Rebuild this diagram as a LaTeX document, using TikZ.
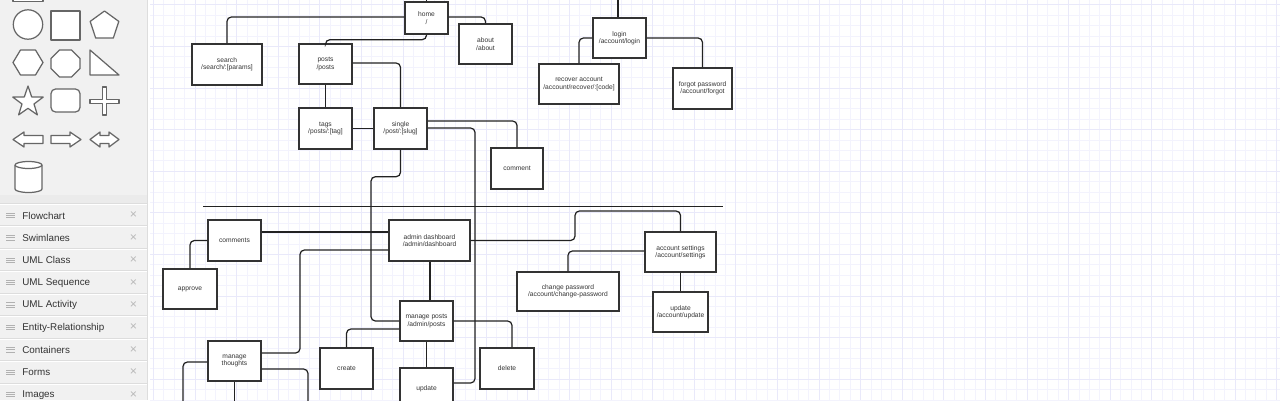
\documentclass[tikz,border=0pt]{standalone}
\usepackage{fontspec}
\setmainfont{Liberation Sans}

\definecolor{gridMinor}{HTML}{F3F3FD}
\definecolor{gridMajor}{HTML}{E9E9FA}
\definecolor{sideBg}{HTML}{F1F1F1}
\definecolor{sideRule}{HTML}{DDDDDD}
\definecolor{sideInk}{HTML}{333333}
\definecolor{iconLine}{HTML}{666666}
\definecolor{boxLine}{HTML}{333333}
\definecolor{linkLine}{HTML}{222222}

\newcommand{\myPx}{0.02cm}
\newcommand{\myPage}[6]{
\node[page, minimum width=#4*\myPx, minimum height=#5*\myPx] (#1) at (#2,#3) {#6};
}

\begin{document}
\begin{tikzpicture}[x=\myPx, y=-\myPx,
	page/.style={draw=boxLine, line width=0.8pt, fill=white, inner sep=0pt, align=center,
		text=sideInk, font=\fontsize{3.8}{4.2}\selectfont},
	link/.style={draw=linkLine, line width=0.7pt, rounded corners=2.5pt},
	icon/.style={draw=iconLine, fill=white, line width=0.7pt, line join=round},
	sideText/.style={anchor=west, inner sep=0pt, text=sideInk, font=\fontsize{5.6}{6}\selectfont}]
	\useasboundingbox (0,0) rectangle (1280,400);
	\clip (0,0) rectangle (1280,400);

	% canvas grid
	\fill[white] (0,0) rectangle (1280,400);
	\foreach \k in {0,...,108}
		\draw[gridMinor, line width=0.35pt] ({153.3+10.4*\k},0) -- ({153.3+10.4*\k},400);
	\foreach \k in {0,...,38}
		\draw[gridMinor, line width=0.35pt] (150,{4.7+10.4*\k}) -- (1280,{4.7+10.4*\k});
	\foreach \k in {0,4,...,108}
		\draw[gridMajor, line width=0.4pt] ({153.3+10.4*\k},0) -- ({153.3+10.4*\k},400);
	\foreach \k in {0,4,...,38}
		\draw[gridMajor, line width=0.4pt] (150,{4.7+10.4*\k}) -- (1280,{4.7+10.4*\k});

	% sidebar
	\fill[sideBg] (0,0) rectangle (147.5,400);
	\draw[sideRule, line width=0.6pt] (147.5,0) -- (147.5,400);
	\draw[icon] (13,-5) rectangle (43,1.5);
	\draw[icon] (28,24.5) circle[radius=14.7];
	\draw[icon] (51,11) rectangle (80,40);
	\draw[icon] (104.5,11) -- (118.8,21.4) -- (113.3,38.1) -- (95.7,38.1) -- (90.2,21.4) -- cycle;
	\draw[icon] (13,62.5) -- (20.5,50) -- (35.5,50) -- (43,62.5) -- (35.5,75) -- (20.5,75) -- cycle;
	\draw[icon] (59.5,50) -- (71.5,50) -- (80,58.5) -- (80,68.5) -- (71.5,77) -- (59.5,77) -- (51,68.5) -- (51,58.5) -- cycle;
	\draw[icon] (90,50) -- (90,75) -- (119,75) -- cycle;
	\draw[icon] (28,86) -- (31.7,96.9) -- (43.2,97.1) -- (34,104) -- (37.4,114.9) -- (28,108.3)
		-- (18.6,114.9) -- (22,104) -- (12.8,97.1) -- (24.3,96.9) -- cycle;
	\draw[icon, rounded corners=2.6pt] (51,89) rectangle (80,112);
	\draw[icon] (102.5,87) -- (106.5,87) -- (106.5,99.5) -- (119,99.5) -- (119,103.5) -- (106.5,103.5)
		-- (106.5,115) -- (102.5,115) -- (102.5,103.5) -- (90,103.5) -- (90,99.5) -- (102.5,99.5) -- cycle;
	\draw[icon] (13,139.5) -- (24,132) -- (24,135.5) -- (43,135.5) -- (43,143.5) -- (24,143.5) -- (24,147) -- cycle;
	\draw[icon] (81,139.5) -- (70,132) -- (70,135.5) -- (51,135.5) -- (51,143.5) -- (70,143.5) -- (70,147) -- cycle;
	\draw[icon] (90,139.5) -- (100,132) -- (100,135.5) -- (109,135.5) -- (109,132) -- (119,139.5)
		-- (109,147) -- (109,143.5) -- (100,143.5) -- (100,147) -- cycle;
	\draw[icon] (15,165) -- (15,189) arc[start angle=180, end angle=0, x radius=13.5, y radius=3.5]
		-- (42,165) arc[start angle=0, end angle=-180, x radius=13.5, y radius=3.5] -- cycle;
	\draw[icon, fill=none] (15,165) arc[start angle=180, end angle=0, x radius=13.5, y radius=3.5];

	\fill[sideRule!60] (0,195) rectangle (147,203);
	\foreach \lbl [count=\i from 0] in {Flowchart,Swimlanes,UML Class,UML Sequence,UML Activity,
		Entity-Relationship,Containers,Forms,Images} {
		\draw[sideRule, line width=0.5pt] (0,{203+22.5*\i}) -- (147,{203+22.5*\i});
		\draw[white, line width=0.5pt] (0,{204.3+22.5*\i}) -- (147,{204.3+22.5*\i});
		\foreach \d in {-2.2,0,2.2}
			\draw[sideRule!80!black, line width=0.5pt] (6,{215.5+22.4*\i+\d}) -- (14.5,{215.5+22.4*\i+\d});
		\node[sideText] (side\i) at (22,{215.5+22.4*\i}) {\lbl};
		\node[sideText, text=black!28, font=\fontsize{7}{7}\selectfont] (close\i) at (129.5,{215.5+22.4*\i}) {×};
	}

	% pages
	\myPage{home}{426.5}{18}{43}{32}{home\\/}
	\myPage{search}{227}{64.5}{70}{41}{search\\/search/:[params]}
	\myPage{about}{485.5}{44}{53}{40}{about\\/about}
	\myPage{posts}{325.5}{64}{53}{40}{posts\\/posts}
	\myPage{tags}{325.5}{128.5}{53}{41}{tags\\/posts/:[tag]}
	\myPage{single}{400.5}{128.5}{53}{41}{single\\/post/:[slug]}
	\myPage{comment}{517}{168.5}{52}{41}{comment}
	\myPage{login}{619.5}{38}{53}{40}{login\\/account/login}
	\myPage{recover}{579}{84}{80}{40}{recover account\\/account/recover/:[code]}
	\myPage{forgot}{702.5}{88.5}{59}{41}{forgot password\\/account/forgot}

	\myPage{comments}{234.5}{240.5}{53}{41}{comments}
	\myPage{approve}{190}{289}{54}{40}{approve}
	\myPage{admin}{429.5}{240.5}{81}{41}{admin dashboard\\/admin/dashboard}
	\myPage{managePosts}{426.5}{321}{53}{40}{manage posts\\/admin/posts}
	\myPage{manageThoughts}{234.5}{361}{53}{40}{manage\\thoughts}
	\myPage{create}{346.5}{368.5}{53}{41}{create}
	\myPage{update}{426.5}{388.5}{53}{41}{update}
	\myPage{delete}{507}{368.5}{54}{41}{delete}
	\myPage{settings}{680.5}{252}{71}{40}{account settings\\/account/settings}
	\myPage{changePw}{568}{291.5}{102}{39}{change password\\/account/change-password}
	\myPage{updateAcc}{680.5}{312}{55}{40}{update\\/account/update}

	\coordinate (homeUp) at (426.5,-5);
	\coordinate (loginUp) at (618,-5);
	\coordinate (sepL) at (203,206);
	\coordinate (sepR) at (723,206);
	\coordinate (thoughtsL) at (183,410);
	\coordinate (thoughtsD) at (234.5,410);
	\coordinate (thoughtsR) at (308,410);

	% links
	\draw[link] (home.north) -- (homeUp);
	\draw[link] (home.west |- 0,17) -| (search.north);
	\draw[link] (home.east |- 0,17) -| (about.north);
	\draw[link] (home.south) -- ++(0,5) -| (posts.north);
	\draw[link] (posts.east |- 0,63) -| (single.north);
	\draw[link] (posts.south) -- (tags.north);
	\draw[link] (tags.east) -- (single.west);
	\draw[link] (single.east |- 0,121) -| (comment.north);
	\draw[link] (single.east |- 0,128) -| (475,383) -- (update.east |- 0,383);
	\draw[link] (single.south) -- ++(0,27) -| (371,321) -- (managePosts.west |- 0,321);
	\draw[link] (login.north -| loginUp) -- (loginUp);
	\draw[link] (login.west) -| (recover.north);
	\draw[link] (login.east) -| (forgot.north);

	\draw[linkLine, line width=0.5pt] (sepL) -- (sepR);

	\draw[link] (comments.east |- 0,232) -- (admin.west |- 0,232);
	\draw[link] (comments.west) -| (approve.north);
	\draw[link] (admin.west |- 0,250) -| (300,353) -- (manageThoughts.east |- 0,353);
	\draw[link] (admin.south -| 430,0) -- (managePosts.north -| 430,0);
	\draw[link] (admin.east) -| (575,211) -| (settings.north);
	\draw[link] (settings.west |- 0,251) -| (changePw.north);
	\draw[link] (settings.south) -- (updateAcc.north);
	\draw[link] (managePosts.west |- 0,329) -| (create.north);
	\draw[link] (managePosts.east) -| (delete.north -| 512,0);
	\draw[link] (managePosts.south) -- (update.north);
	\draw[link] (manageThoughts.west |- 0,362) -| (thoughtsL);
	\draw[link] (manageThoughts.south) -- (thoughtsD);
	\draw[link] (manageThoughts.east |- 0,369) -| (thoughtsR);
\end{tikzpicture}
\end{document}
